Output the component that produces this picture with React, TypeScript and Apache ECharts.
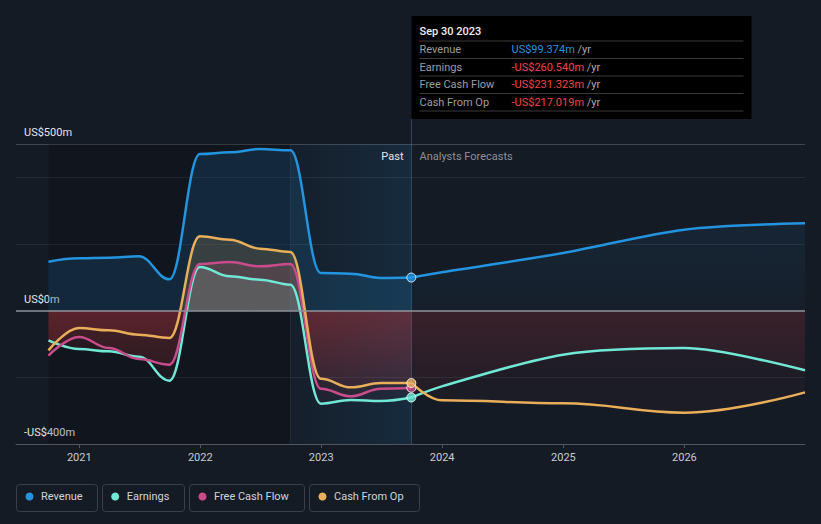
import { useEffect, useRef } from 'react';
import * as echarts from 'echarts';

const W = 821;
const H = 524;
const GRID = { left: 16, right: 16, top: 144, bottom: 80 };
const Y_MIN = -400;
const Y_MAX = 500;
const Y_STEP = 100;
const FONT = 'Roboto';

// ---- data ----
const pastDates = [
  '2020-09-30', '2020-12-31', '2021-03-31', '2021-06-30', '2021-09-30',
  '2021-12-31', '2022-03-31', '2022-06-30', '2022-09-30', '2022-12-31',
  '2023-03-31', '2023-06-30', '2023-09-30',
];
const revenuePast = [147, 157, 159, 163, 94, 470, 475, 485, 481, 113, 111, 98, 99.374];
const earningsPast = [-89, -115, -122, -138, -210, 131, 103, 93, 78, -279, -268, -271, -260.54];
const fcfPast = [-135, -79, -112, -145, -162, 140, 146, 133, 140, -234, -257, -234, -231.323];
const cfoPast = [-119, -52, -59, -72, -82, 223, 213, 186, 176, -204, -230, -217, -217.019];

const forecastDates = ['2023-09-30', '2023-12-31', '2024-12-31', '2025-12-31', '2026-12-31'];
const revenueForecast = [99.374, 115, 173, 243, 262];
const earningsForecast = [-260.54, -227, -132, -112, -179];
const cfoForecast = [-217.019, -269, -278, -306, -245];

const xMin = '2020-06-24';
const xMax = '2026-12-31';
const yearTicks = [2021, 2022, 2023, 2024, 2025, 2026];
const yLabelValues = [500, 0, -400];
const highlightStart = '2022-09-30';
const lastDate = '2023-09-30';
const tooltipDate = 'Sep 30 2023';

const NAMES = ['Revenue', 'Earnings', 'Free Cash Flow', 'Cash From Op'];
const COLORS: Record<string, string> = {
  Revenue: '#2394df',
  Earnings: '#71e7d6',
  'Free Cash Flow': '#c84c8c',
  'Cash From Op': '#e9ae5a',
};
const lastValues: Record<string, number> = {
  Revenue: revenuePast[revenuePast.length - 1],
  Earnings: earningsPast[earningsPast.length - 1],
  'Free Cash Flow': fcfPast[fcfPast.length - 1],
  'Cash From Op': cfoPast[cfoPast.length - 1],
};

const ts = (d: string) => Date.parse(d + 'T00:00:00Z');
function rgba(hex: string, a: number) {
  const n = parseInt(hex.slice(1), 16);
  return `rgba(${(n >> 16) & 255},${(n >> 8) & 255},${n & 255},${a})`;
}
function fmt(v: number) {
  return (v < 0 ? '-' : '') + 'US$' + Math.abs(v).toFixed(3) + 'm';
}
function yLabel(v: number) {
  return (v < 0 ? '-' : '') + 'US$' + Math.abs(v) + 'm';
}
const pairs = (dates: string[], vals: number[]) => dates.map((d, i) => [ts(d), vals[i]]);

const RED = '#dc3a40';
const gridTopPx = GRID.top;
const gridBottomPx = H - GRID.bottom;
const zeroFrac = Y_MAX / (Y_MAX - Y_MIN);

function posNegFill(color: string, posA: number, negA: number) {
  return new echarts.graphic.LinearGradient(
    0, gridTopPx, 0, gridBottomPx,
    [
      { offset: 0, color: rgba(color, posA) },
      { offset: zeroFrac, color: rgba(color, posA) },
      { offset: zeroFrac, color: rgba(RED, negA) },
      { offset: zeroFrac + (1 - zeroFrac) * 0.5, color: rgba(RED, negA * 0.45) },
      { offset: 1, color: rgba(RED, negA * 0.1) },
    ],
    true,
  );
}

function lineSeries(name: string, data: any[], area: any, smooth: number, mono?: 'x') {
  return {
    type: 'line',
    name,
    data,
    z: 2,
    smooth,
    smoothMonotone: mono,
    symbol: 'none',
    showSymbol: false,
    silent: true,
    itemStyle: { color: COLORS[name] },
    lineStyle: { color: COLORS[name], width: 2.5 },
    areaStyle: area,
  };
}

function buildOption() {
  const splitColors: string[] = [];
  for (let v = Y_MIN; v <= Y_MAX; v += Y_STEP) {
    if (v === Y_MAX) splitColors.push('#40454e');
    else if (v === 200 || v === 400 || v === -200) splitColors.push('#262c36');
    else splitColors.push('rgba(0,0,0,0)');
  }
  const tickValues = yearTicks.map((y) => Date.UTC(y, 0, 1));

  return {
    animation: false,
    backgroundColor: '#151b25',
    textStyle: { fontFamily: FONT },
    tooltip: { show: false },
    grid: { left: GRID.left, right: GRID.right, top: GRID.top, bottom: GRID.bottom, containLabel: false },
    legend: NAMES.map((n, i) => ({
      data: [n],
      left: [25.5, 111.2, 198.5, 318.5][i],
      top: 491,
      padding: 0,
      icon: 'circle',
      itemWidth: 13,
      itemHeight: 8,
      selectedMode: false,
      itemStyle: { borderWidth: 0 },
      textStyle: { color: '#d2d4d8', fontSize: 11, fontFamily: FONT },
    })),
    xAxis: {
      type: 'value',
      min: ts(xMin),
      max: ts(xMax),
      axisLine: { show: true, onZero: false, lineStyle: { color: '#50555e', width: 1 } },
      axisTick: { show: true, length: 4, lineStyle: { color: '#50555e' }, customValues: tickValues },
      axisLabel: {
        color: '#c9cbcf',
        fontSize: 11,
        margin: 8,
        fontFamily: FONT,
        customValues: tickValues,
        formatter: (v: number) => String(new Date(v).getUTCFullYear()),
      },
      splitLine: { show: false },
    },
    yAxis: {
      type: 'value',
      min: Y_MIN,
      max: Y_MAX,
      interval: Y_STEP,
      axisLine: { show: false },
      axisTick: { show: false },
      axisLabel: {
        inside: true,
        margin: 8,
        color: '#e2e4e8',
        fontSize: 11,
        fontFamily: FONT,
        verticalAlign: 'bottom',
        padding: [0, 0, 6, 0],
        formatter: (v: number) => (yLabelValues.indexOf(v) >= 0 ? yLabel(v) : ''),
      },
      splitLine: { show: true, lineStyle: { color: splitColors, width: 1 } },
    },
    series: [
      {
        type: 'line',
        name: '__bg',
        data: [],
        z: 1,
        silent: true,
        markArea: {
          silent: true,
          data: [
            [{ xAxis: ts(pastDates[0]), itemStyle: { color: 'rgba(0,0,0,0.18)' } }, { xAxis: ts(highlightStart) }],
            [
              {
                xAxis: ts(highlightStart),
                itemStyle: {
                  color: new echarts.graphic.LinearGradient(0, 0, 1, 0, [
                    { offset: 0, color: 'rgba(35,148,223,0.03)' },
                    { offset: 1, color: 'rgba(35,148,223,0.13)' },
                  ]),
                },
              },
              { xAxis: ts(lastDate) },
            ],
          ],
        },
        markLine: {
          silent: true,
          symbol: 'none',
          label: { show: false },
          data: [
            { xAxis: ts(highlightStart), lineStyle: { color: 'rgba(120,170,220,0.10)', width: 1, type: 'solid' } },
          ],
        },
      },
      lineSeries('Revenue', pairs(pastDates, revenuePast), { color: rgba(COLORS.Revenue, 0.22) }, 0.4, 'x'),
      lineSeries('Earnings', pairs(pastDates, earningsPast), { color: posNegFill(COLORS.Earnings, 0.24, 0.2) }, 0.4, 'x'),
      lineSeries('Free Cash Flow', pairs(pastDates, fcfPast), { color: posNegFill(COLORS['Free Cash Flow'], 0.24, 0.2) }, 0.4, 'x'),
      lineSeries('Cash From Op', pairs(pastDates, cfoPast), { color: posNegFill(COLORS['Cash From Op'], 0.24, 0.2) }, 0.4, 'x'),
      lineSeries(
        'Revenue',
        pairs(forecastDates, revenueForecast),
        {
          color: new echarts.graphic.LinearGradient(0, 0, 0, 1, [
            { offset: 0, color: rgba(COLORS.Revenue, 0.12) },
            { offset: 1, color: rgba(COLORS.Revenue, 0.05) },
          ]),
        },
        0.3,
      ),
      lineSeries('Earnings', pairs(forecastDates, earningsForecast), { color: posNegFill(COLORS.Earnings, 0.15, 0.14) }, 0.3),
      lineSeries('Cash From Op', pairs(forecastDates, cfoForecast), { color: posNegFill(COLORS['Cash From Op'], 0.15, 0.13) }, 0.4, 'x'),
      {
        type: 'line',
        name: '__zero',
        data: [],
        z: 3,
        silent: true,
        markLine: {
          silent: true,
          symbol: 'none',
          label: { show: false },
          lineStyle: { color: '#8e939a', width: 1.5, type: 'solid' },
          data: [{ yAxis: 0 }],
        },
      },
      {
        type: 'scatter',
        name: '__dots',
        z: 4,
        silent: true,
        symbol: 'circle',
        symbolSize: 9,
        data: NAMES.map((n) => ({
          value: [ts(lastDate), lastValues[n]],
          itemStyle: { color: COLORS[n], borderColor: '#ffffff', borderWidth: 1 },
        })),
      },
    ],
  };
}

function buildGraphic(px: number) {
  const els: any[] = [];
  els.push({
    type: 'line',
    z: 1,
    silent: true,
    shape: { x1: px, y1: 119, x2: px, y2: gridBottomPx },
    style: { stroke: 'rgba(80,120,160,0.45)', lineWidth: 1 },
  });
  els.push({
    type: 'text',
    z: 5,
    silent: true,
    x: px - 8,
    y: 156,
    style: { text: 'Past', fill: '#e4e6ea', fontSize: 11, fontFamily: FONT, align: 'right', verticalAlign: 'middle' },
  });
  els.push({
    type: 'text',
    z: 5,
    silent: true,
    x: px + 8,
    y: 156,
    style: { text: 'Analysts Forecasts', fill: '#8a9099', fontSize: 11, fontFamily: FONT, align: 'left', verticalAlign: 'middle' },
  });
  const bx = px;
  els.push({ type: 'rect', z: 10, silent: true, shape: { x: bx, y: 16, width: 340, height: 103 }, style: { fill: '#000000' } });
  els.push({
    type: 'text',
    z: 11,
    silent: true,
    x: bx + 8,
    y: 31,
    style: { text: tooltipDate, fill: '#f0f0f0', fontSize: 11, fontWeight: 500, fontFamily: FONT, verticalAlign: 'middle' },
  });
  const sepYs = [41, 58.5, 76, 93.5, 111];
  sepYs.forEach((y) => {
    els.push({
      type: 'line',
      z: 11,
      silent: true,
      shape: { x1: bx + 8, y1: y, x2: bx + 332, y2: y },
      style: { stroke: '#3a3a3a', lineWidth: 1 },
    });
  });
  const rowYs = [49.5, 67, 84.5, 102];
  NAMES.forEach((n, i) => {
    const v = lastValues[n];
    els.push({
      type: 'text',
      z: 11,
      silent: true,
      x: bx + 8,
      y: rowYs[i],
      style: { text: n, fill: '#9b9ea3', fontSize: 11, fontFamily: FONT, verticalAlign: 'middle' },
    });
    els.push({
      type: 'text',
      z: 11,
      silent: true,
      x: bx + 100,
      y: rowYs[i],
      style: {
        text: `{v|${fmt(v)}} {u|/yr}`,
        fontSize: 11,
        fontFamily: FONT,
        verticalAlign: 'middle',
        rich: {
          v: { fill: v < 0 ? '#f0444c' : '#2394df', fontSize: 11, fontFamily: FONT },
          u: { fill: '#a7aaaf', fontSize: 11, fontFamily: FONT },
        },
      },
    });
  });
  const boxes = [
    [16, 81],
    [102, 82],
    [189, 115],
    [309, 110],
  ];
  boxes.forEach(([x, w]) => {
    els.push({
      type: 'rect',
      z: 1,
      silent: true,
      shape: { x: x + 0.5, y: 484.5, width: w, height: 27, r: 3 },
      style: { fill: 'none', stroke: '#3a404b', lineWidth: 1 },
    });
  });
  return els;
}

export default function App() {
  const ref = useRef<HTMLDivElement>(null);
  useEffect(() => {
    if (!ref.current) return;
    const chart = echarts.init(ref.current, null, { renderer: 'svg' });
    chart.setOption(buildOption() as any);
    const p = chart.convertToPixel({ gridIndex: 0 }, [ts(lastDate), 0]) as number[];
    const px = Math.round(p[0]) + 0.5;
    chart.setOption({ graphic: buildGraphic(px) } as any);
    return () => chart.dispose();
  }, []);
  return <div ref={ref} style={{ position: 'absolute', left: 0, top: 0, width: W, height: H }} />;
}
